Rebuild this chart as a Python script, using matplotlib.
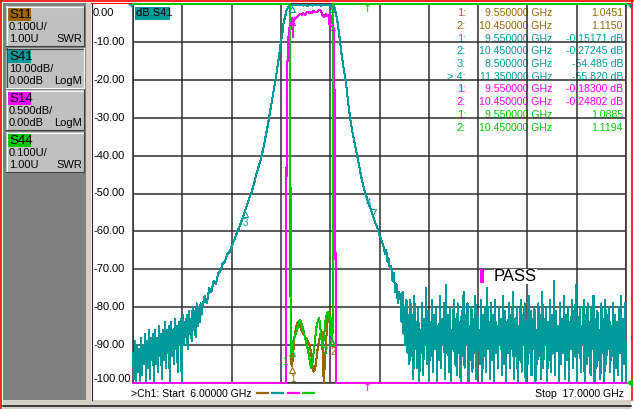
import numpy as np
import matplotlib
matplotlib.use("Agg")
import matplotlib.pyplot as plt
from matplotlib.patches import Rectangle, Polygon
from matplotlib.transforms import offset_copy, blended_transform_factory

plt.rcParams['font.family'] = ['Liberation Sans', 'DejaVu Sans']

# colours of the analyser screen
BROWN = '#996600'
TEAL = '#009a9a'
MAGENTA = '#ff00ff'
GREEN = '#00c800'
GRID = '#2e2e2e'
PANEL = '#808080'
BUTTON = '#c0c0c0'
FACE = '#d4d0c8'

#region DATA
start_ghz = 6.0
stop_ghz = 17.0
n_div = 10

ytick_db = [0, -10, -20, -30, -40, -50, -60, -70, -80, -90, -100]
ytick_labels = ["0.00", "-10.00", "-20.00", "-30.00", "-40.00", "-50.00",
                "-60.00", "-70.00", "-80.00", "-90.00", "-100.00"]

channels = ['S11', 'S41', 'S14', 'S44']
channel_scale = ['0.100U/', '10.00dB/', '0.500dB/', '0.100U/']
channel_ref = ['1.00U', '0.00dB', '0.00dB', '1.00U']
channel_fmt = ['SWR', 'LogM', 'LogM', 'SWR']
channel_colors = [BROWN, TEAL, MAGENTA, GREEN]

# S41 (dB): noise floor on the left, skirts + passband, noise floor on the right
s41_left_noise = [-92, -99, -89, -100, -90, -97, -91, -100, -88, -98, -90, -95, -87, -100,
                  -89, -96, -86, -99, -88, -94, -87, -100, -86, -95, -88, -97, -85, -93,
                  -87, -99, -86, -94, -84, -96, -86, -92, -85, -100, -84, -93, -86, -95,
                  -83, -91, -85, -97, -84, -90, -83, -100, -82, -90, -84, -88, -82, -91,
                  -81, -87, -83, -89, -80, -86, -81, -88, -79, -85, -80, -84, -79, -82]
s41_mid_f = [7.55, 7.6, 7.65, 7.7, 7.75, 7.8, 7.85, 7.9, 7.95, 8.0,
             8.05, 8.1, 8.15, 8.2, 8.25, 8.3, 8.35, 8.4, 8.45, 8.5,
             8.55, 8.6, 8.65, 8.7, 8.75, 8.8, 8.85, 8.9, 8.95, 9.0,
             9.05, 9.1, 9.15, 9.2, 9.25, 9.3, 9.33, 9.36, 9.4, 9.43, 9.47,
             9.5, 9.55, 9.6, 9.65, 9.7, 9.75, 9.8, 9.85, 9.9, 9.95,
             10.0, 10.05, 10.1, 10.15, 10.2, 10.25, 10.3, 10.35, 10.4, 10.45,
             10.48, 10.5, 10.53, 10.56, 10.6, 10.62, 10.65,
             10.7, 10.75, 10.8, 10.85, 10.9, 10.95, 11.0, 11.05, 11.1, 11.15,
             11.2, 11.25, 11.3, 11.35, 11.4, 11.45, 11.5, 11.55, 11.6,
             11.62, 11.65, 11.68, 11.7, 11.73, 11.76, 11.79, 11.82, 11.85, 11.88, 11.91, 11.94]
s41_mid_db = [-80, -77, -79, -75, -76, -73, -74, -71, -70.5, -68.5,
              -68, -66, -65.5, -64, -62.5, -61, -59.5, -58, -56.3, -54.5,
              -52.8, -51, -49.5, -47.5, -45, -43, -41, -38.5, -35.5, -32.5,
              -29, -25.5, -22, -18.5, -14.5, -10, -8, -5, -3, -1.5, -0.6,
              -0.3, -0.15, -0.3, -0.2, -0.35, -0.25, -0.4, -0.3, -0.45, -0.3,
              -0.4, -0.25, -0.35, -0.3, -0.4, -0.3, -0.35, -0.3, -0.45, -0.27,
              -0.6, -1.0, -2.5, -4.5, -8, -10, -13,
              -17, -20.5, -26, -30.5, -34, -37, -40, -43, -46, -48.5,
              -50.5, -52.5, -54, -55.8, -57.5, -59, -61, -62.5, -64.5,
              -66, -65, -68, -67, -70, -69, -73, -71, -76, -74, -79, -76]
s41_right_noise = [
    -78, -84, -76, -87, -80, -90, -78, -92, -82, -95, -78, -93, -82, -99, -77, -91, -84, -96, -80, -100,
    -86, -92, -79, -98, -83, -90, -75, -95, -81, -100, -84, -93, -78, -97, -82, -91, -80, -100, -85, -94,
    -77, -96, -83, -90, -79, -99, -74, -92, -82, -97, -80, -100, -86, -91, -78, -95, -83, -98, -79, -92,
    -84, -100, -81, -93, -76, -96, -82, -90, -79, -100, -85, -94, -80, -97, -83, -92, -77, -99, -81, -91,
    -86, -95, -78, -100, -82, -93, -80, -97, -75, -91, -84, -99, -79, -94, -82, -100, -78, -92, -85, -96,
    -80, -90, -83, -98, -77, -95, -81, -100, -84, -92, -79, -96, -82, -91, -76, -99, -83, -93, -80, -100,
    -85, -94, -78, -97, -82, -90, -79, -100, -84, -95, -77, -92, -81, -98, -83, -91, -80, -100, -86, -95,
    -79, -93, -82, -99, -76, -96, -83, -90, -80, -100, -84, -94, -78, -97, -82, -92, -73, -98, -81, -91,
    -85, -100, -79, -95, -83, -92, -77, -99, -82, -94, -80, -100, -84, -91, -78, -96, -81, -93, -74, -100,
    -83, -92, -80, -97, -85, -90, -78, -100, -82, -95, -79, -93, -84, -98, -80, -91, -77, -100, -83, -96,
    -81, -94, -86, -99, -79, -92, -83, -100, -78, -95, -82, -91, -80, -97, -85, -93, -79, -100, -82, -96,
    -84, -98, -80, -92, -77, -100, -83, -95, -79, -100]

# S14 (dB, 0.5 dB/div)
s14_f = [6.0, 9.41, 9.425, 9.44, 9.46, 9.48, 9.50, 9.53, 9.55, 9.565,
         9.575, 9.59, 9.62, 9.66, 9.70, 9.73, 9.77, 9.80, 9.84, 9.87,
         9.90, 9.94, 9.97, 10.0, 10.03, 10.06, 10.1, 10.13, 10.17, 10.2,
         10.22, 10.26, 10.3, 10.33, 10.36, 10.39, 10.41, 10.43, 10.45, 10.47,
         10.49, 10.51, 10.535, 17.0]
s14_db = [-30, -8, -2.2, -0.9, -0.5, -0.35, -0.28, -0.22, -0.183, -0.43,
          -0.25, -0.2, -0.19, -0.17, -0.15, -0.13, -0.14, -0.12, -0.145, -0.11,
          -0.105, -0.12, -0.1, -0.115, -0.09, -0.1, -0.11, -0.09, -0.08, -0.1,
          -0.14, -0.17, -0.13, -0.16, -0.14, -0.3, -0.15, -0.22, -0.248, -0.3,
          -0.6, -2.5, -6, -30]

# S11 and S44 (SWR, 0.1 U/div, ref 1.00 at bottom line)
s11_f = [6.0, 9.50, 9.515, 9.53, 9.55, 9.57, 9.60, 9.64, 9.68, 9.71,
         9.75, 9.80, 9.85, 9.90, 9.94, 9.98, 10.0, 10.03, 10.06, 10.09,
         10.12, 10.15, 10.18, 10.21, 10.24, 10.255, 10.27, 10.30, 10.33, 10.36,
         10.39, 10.42, 10.45, 10.46, 10.47, 17.0]
s11_swr = [3.0, 3.0, 1.21, 1.05, 1.0451, 1.07, 1.12, 1.15, 1.162, 1.16,
           1.14, 1.13, 1.12, 1.11, 1.10, 1.075, 1.05, 1.03, 1.035, 1.06,
           1.09, 1.11, 1.13, 1.135, 1.06, 1.0, 1.03, 1.09, 1.15, 1.18,
           1.19, 1.16, 1.115, 1.3, 3.0, 3.0]
s44_f = [6.0, 9.50, 9.52, 9.535, 9.55, 9.57, 9.61, 9.66, 9.70, 9.73,
         9.77, 9.815, 9.86, 9.905, 9.95, 9.97, 10.0, 10.02, 10.06, 10.10,
         10.15, 10.17, 10.20, 10.23, 10.26, 10.30, 10.33, 10.37, 10.40, 10.43,
         10.45, 10.46, 10.47, 17.0]
s44_swr = [3.0, 3.0, 1.3, 1.08, 1.0885, 1.108, 1.124, 1.14, 1.161, 1.166,
           1.153, 1.132, 1.108, 1.087, 1.055, 1.04, 1.05, 1.069, 1.113, 1.153,
           1.172, 1.16, 1.12, 1.095, 1.12, 1.17, 1.185, 1.187, 1.16, 1.125,
           1.1194, 1.25, 3.0, 3.0]

# markers
s11_mk_f = [9.55, 10.45]
s11_mk = [1.0451, 1.1150]
s41_mk_f = [9.55, 10.45, 8.5, 11.35]
s41_mk = [-0.15171, -0.27245, -54.485, -55.820]
s14_mk_f = [9.55, 10.45]
s14_mk = [-0.18300, -0.24802]
s44_mk_f = [9.55, 10.45]
s44_mk = [1.0885, 1.1194]
active_marker = 4
#endregion


def logm(db, per_div):  # to screen units (10 per division, 0 at top)
    return np.clip(np.asarray(db) / per_div * 10, -100, 0)


def swr(u, per_div=0.1, ref=1.0):  # ref line at bottom
    return np.clip(-100 + (np.asarray(u) - ref) / per_div * 10, -100, 0)


s41_f = np.concatenate([np.linspace(6.0, 7.53, len(s41_left_noise)), s41_mid_f,
                        np.linspace(11.97, 17.0, len(s41_right_noise))])
s41_db = np.concatenate([s41_left_noise, s41_mid_db, s41_right_noise])

W, H = 634, 409
fig = plt.figure(figsize=(W / 100, H / 100), dpi=100)
fig.patch.set_facecolor('white')
bg = fig.add_axes([0, 0, 1, 1], zorder=0)
bg.set_xlim(0, W)
bg.set_ylim(H, 0)
bg.axis('off')


def px_axes(x0, y0, x1, y1):
    return [x0 / W, 1 - y1 / H, (x1 - x0) / W, (y1 - y0) / H]


#region FRAME / LEFT PANEL
bg.add_patch(Rectangle((3, 3), 83, 397, color=PANEL, lw=0))
bg.add_patch(Rectangle((86, 3), 5, 397, color=FACE, lw=0))
bg.plot([91.5, 91.5], [3, 400], color='#202020', lw=0.8)
bg.add_patch(Rectangle((3, 400), 628, 9, color=FACE, lw=0))
bg.plot([3, 631], [405.5, 405.5], color='#202020', lw=1.2)
bg.plot([1.2, 1.2], [0, H], color='red', lw=1.2)
bg.plot([631.5, 631.5], [0, 400], color='red', lw=1.2)
bg.plot([0, W], [0.8, 0.8], color='red', lw=1.2)
bg.plot([91, 631], [3, 3], color='red', lw=0.8)

button_tops = [6, 48, 90, 132]
for i, name in enumerate(channels):
    t = button_tops[i]
    bg.add_patch(Rectangle((6, t), 78, 40, color=BUTTON, lw=0))
    hi, lo = ('white', '#404040') if name != 'S41' else ('#404040', 'white')
    bg.plot([6, 84], [t + 0.5, t + 0.5], color=hi, lw=0.8)
    bg.plot([6.5, 6.5], [t, t + 40], color=hi, lw=0.8)
    bg.plot([6, 84], [t + 39.5, t + 39.5], color=lo, lw=0.8)
    bg.plot([83.5, 83.5], [t, t + 40], color=lo, lw=0.8)
    bg.add_patch(Rectangle((8, t + 2), 23, 13, color=channel_colors[i], lw=0))
    bg.text(9, t + 9, name, fontsize=9.5, va='center', ha='left', color='black')
    bg.text(9, t + 21.5, channel_scale[i], fontsize=8, va='center', ha='left')
    bg.text(9, t + 33, channel_ref[i], fontsize=8, va='center', ha='left')
    bg.text(82, t + 33, channel_fmt[i], fontsize=8, va='center', ha='right')
#endregion

#region PLOT
ax = fig.add_axes(px_axes(133, 4, 626, 383), zorder=1)
ax.patch.set_visible(False)
ax.set_xlim(start_ghz, stop_ghz)
ax.set_ylim(-100, 0)
ax.set_xticks(np.linspace(start_ghz, stop_ghz, n_div + 1))
ax.set_yticks(ytick_db)
ax.tick_params(length=0, labelbottom=False, labelleft=False)
ax.grid(True, color=GRID, lw=1.1)
for s in ax.spines.values():
    s.set_color(GRID)
    s.set_linewidth(1.1)

ax.plot(s41_f, logm(s41_db, 10), color=TEAL, lw=0.75, zorder=3, clip_on=False, antialiased=False)
ax.plot(s11_f, swr(s11_swr), color=BROWN, lw=0.75, zorder=4, clip_on=False, antialiased=False)
ax.plot(s14_f, logm(s14_db, 0.5), color=MAGENTA, lw=0.75, zorder=5, clip_on=False, antialiased=False)
ax.plot(s44_f, swr(s44_swr), color=GREEN, lw=0.75, zorder=6, clip_on=False, antialiased=False)

below = offset_copy(ax.transData, fig=fig, y=-4, units='dots')
above = offset_copy(ax.transData, fig=fig, y=4, units='dots')
above_lab = offset_copy(ax.transData, fig=fig, x=-4, y=13, units='dots')

# (freqs, screen values, colour, label x shift in px or None for no label)
mk_sets = [(s11_mk_f, swr(s11_mk), BROWN, 1), (s41_mk_f, logm(s41_mk, 10), TEAL, 0),
           (s14_mk_f, logm(s14_mk, 0.5), MAGENTA, None), (s44_mk_f, swr(s44_mk), GREEN, -7)]
for fs, ys, col, shift in mk_sets:
    lab_tr = None if shift is None else offset_copy(ax.transData, fig=fig, x=shift, y=-13, units='dots')
    for k, (f, y) in enumerate(zip(fs, ys)):
        num = k + 1
        if col == TEAL and num == active_marker:
            ax.plot([f], [y], marker='v', ms=5, mfc='none', mec=col, mew=0.8, transform=above, zorder=7)
            ax.text(f, y, str(num), transform=above_lab, fontsize=7, color=col, ha='center', va='center', zorder=7)
            continue
        ax.plot([f], [y], marker='^', ms=5, mfc='none', mec=col, mew=0.8, transform=below, zorder=7)
        if lab_tr is not None and (col != TEAL or y < -5):
            ax.text(f, y, str(num), transform=lab_tr, fontsize=7, color=col, ha='center', va='center', zorder=7)

# active marker stimulus arrows
ax.text(s41_mk_f[3] - 0.13, 0, '\u2191', color=GREEN, fontsize=8, ha='center', va='top',
        family='DejaVu Sans', zorder=7, clip_on=False)
ax.text(s41_mk_f[3] - 0.13, -100, '\u2191', color=MAGENTA, fontsize=8, ha='center', va='top',
        family='DejaVu Sans', zorder=7, clip_on=False)

# y tick labels, left aligned beside the grid
ytrans = blended_transform_factory(bg.transData, ax.transData)
for db, lab in zip(ytick_db, ytick_labels):
    dy = -9 if db == 0 else (4 if db == -100 else 0)
    tr = offset_copy(ytrans, fig=fig, y=dy, units='dots')
    bg.text(93, db, lab, transform=tr, fontsize=8, ha='left', va='center')
#endregion

#region ANNOTATIONS
bg.add_patch(Rectangle((135, 7), 35, 13, color=TEAL, lw=0))
bg.text(136, 13.5, 'dB S41', fontsize=8, ha='left', va='center')

rows = []
for mk_f, mk_v, col, unit in [(s11_mk_f, s11_mk, BROWN, ''), (s41_mk_f, s41_mk, TEAL, ' dB'),
                               (s14_mk_f, s14_mk, MAGENTA, ' dB'), (s44_mk_f, s44_mk, GREEN, '')]:
    for k, (f, v) in enumerate(zip(mk_f, mk_v)):
        num = k + 1
        head = f"> {num}:" if (col == TEAL and num == active_marker) else f"{num}:"
        rows.append((head, f"{f:.6f} GHz", f"{v:#.5g}{unit}", col))
for r, (head, freq, val, col) in enumerate(rows):
    y = 13 + r * 12.75
    bg.text(466, y, head, fontsize=8, ha='right', va='center', color=col)
    bg.text(552, y, freq, fontsize=7.6, ha='right', va='center', color=col)
    bg.text(623, y, val, fontsize=7.6, ha='right', va='center', color=col)

fig.add_artist(Rectangle((480, 269), 3.5, 14, color=MAGENTA, lw=0, transform=bg.transData, zorder=5))
fig.text(494, 276.5, 'PASS', fontsize=12, ha='left', va='center', transform=bg.transData, zorder=5,
         bbox=dict(facecolor='white', edgecolor='none', pad=0))

bg.text(131, 394, '>Ch1: Start  6.00000 GHz', fontsize=7.6, ha='left', va='center')
bg.text(624, 394, 'Stop  17.0000 GHz', fontsize=7.6, ha='right', va='center')
for x0, col in zip([256, 271, 287, 302], channel_colors):
    bg.plot([x0, x0 + 13], [392.5, 392.5], color=col, lw=1.6, solid_capstyle='butt')

# reference position triangles
fig.add_artist(Polygon([[128, 4], [133, 4], [133, 9]], closed=True, color=TEAL, lw=0,
                       transform=bg.transData, zorder=6))
fig.add_artist(Polygon([[627, 4], [631, 4], [631, 9]], closed=True, color=TEAL, lw=0,
                       transform=bg.transData, zorder=6))
fig.add_artist(Polygon([[626, 383], [633, 379], [633, 387]], closed=True, color=GREEN, lw=0,
                       transform=bg.transData, zorder=6))
#endregion

fig.savefig('out.png', dpi=100)
